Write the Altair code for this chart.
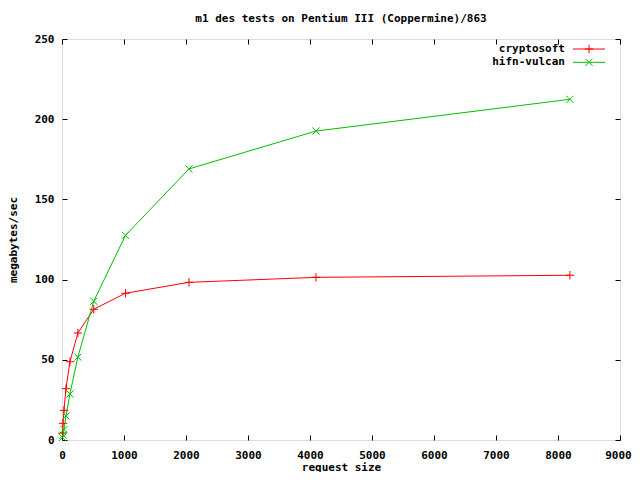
import altair as alt
import pandas as pd

# ---- data ----
sizes = [8, 16, 32, 64, 128, 256, 512, 1024, 2048, 4096, 8192]
cryptosoft = [4.3, 10.4, 18.5, 32.0, 48.8, 66.7, 81.5, 91.5, 98.3, 101.4, 102.7]
hifn_vulcan = [1.5, 3.0, 6.5, 15.0, 28.7, 51.7, 86.5, 127.6, 169.0, 192.6, 212.4]
series_names = ["cryptosoft", "hifn-vulcan"]
series_colors = ["#ff0000", "#00c000"]
x_ticks = [0, 1000, 2000, 3000, 4000, 5000, 6000, 7000, 8000, 9000]
y_ticks = [0, 50, 100, 150, 200, 250]

rows = []
for name, vals in zip(series_names, [cryptosoft, hifn_vulcan]):
    for s, v in zip(sizes, vals):
        rows.append({"size": s, "mbps": v, "series": name})
df = pd.DataFrame(rows)

FONT = "DejaVu Sans Mono"
FS = 11
PLUS = "M-1,0L1,0M0,-1L0,1"
CROSS = "M-1,-1L1,1M-1,1L1,-1"
SIZES = [72, 50]
W, H = 558, 401

xscale = alt.Scale(domain=[0, 9000], nice=False, zero=False)
yscale = alt.Scale(domain=[0, 250], nice=False, zero=False)
color = alt.Color("series:N", scale=alt.Scale(domain=series_names, range=series_colors), legend=None)
shape = alt.Shape("series:N", scale=alt.Scale(domain=series_names, range=[PLUS, CROSS]), legend=None)
msize = alt.Size("series:N", scale=alt.Scale(domain=series_names, range=SIZES), legend=None)

common_axis = dict(offset=-5, tickSize=5, domain=False, grid=False, tickColor="black",
                   labelFont=FONT, labelFontSize=FS, labelFontWeight="bold", labelColor="black",
                   titleFont=FONT, titleFontSize=FS, titleFontWeight="bold", titleColor="black",
                   format="d")

lines = alt.Chart(df).mark_line(strokeWidth=1).encode(
    x=alt.X("size:Q", scale=xscale,
            axis=alt.Axis(orient="bottom", values=x_ticks, labelPadding=9, title="request size",
                          titlePadding=1, labelFlush=False,
                          labelOffset={"condition": {"test": "datum.value == 9000", "value": -2},
                                       "value": 0},
                          **common_axis)),
    y=alt.Y("mbps:Q", scale=yscale,
            axis=alt.Axis(orient="left", values=y_ticks, labelPadding=8, title="megabytes/sec",
                          titlePadding=16, labelFlush=False, **common_axis)),
    color=color,
)

points = alt.Chart(df).mark_point(filled=False, strokeWidth=1, opacity=1).encode(
    x=alt.X("size:Q", scale=xscale,
            axis=alt.Axis(orient="top", values=x_ticks, labels=False, title=None, **common_axis)),
    y=alt.Y("mbps:Q", scale=yscale,
            axis=alt.Axis(orient="right", values=y_ticks, labels=False, title=None, **common_axis)),
    color=color,
    shape=shape,
    size=msize,
)

legend_layers = []
for i, (name, col, shp, sz) in enumerate(zip(series_names, series_colors, [PLUS, CROSS], SIZES)):
    ly = 10 + 13.3 * i
    ldf = pd.DataFrame({"name": [name]})
    legend_layers.append(
        alt.Chart(ldf).mark_text(align="right", baseline="middle", font=FONT, fontSize=FS,
                                 fontWeight="bold", color="black").encode(
            x=alt.value(503), y=alt.value(ly), text="name:N")
    )
    legend_layers.append(
        alt.Chart(ldf).mark_rule(color=col, strokeWidth=1).encode(
            x=alt.value(511), x2=alt.value(543), y=alt.value(ly))
    )
    legend_layers.append(
        alt.Chart(ldf).mark_point(shape=shp, filled=False, color=col, size=sz, strokeWidth=1,
                                  opacity=1).encode(
            x=alt.value(527), y=alt.value(ly))
    )

chart = alt.layer(lines, points, *legend_layers).resolve_axis(
    x="independent", y="independent"
).properties(
    width=W, height=H,
    title=alt.TitleParams("m1 des tests on Pentium III (Coppermine)/863", font=FONT, fontSize=FS,
                          fontWeight="bold", color="black", anchor="middle", offset=9),
    autosize=alt.AutoSizeParams(type="none"),
    padding={"left": 54, "top": 31, "right": 12, "bottom": 32},
).configure_view(stroke="black", strokeWidth=1).configure(background="white")

chart.save("out.html", embed_options={"renderer": "svg", "actions": False})
